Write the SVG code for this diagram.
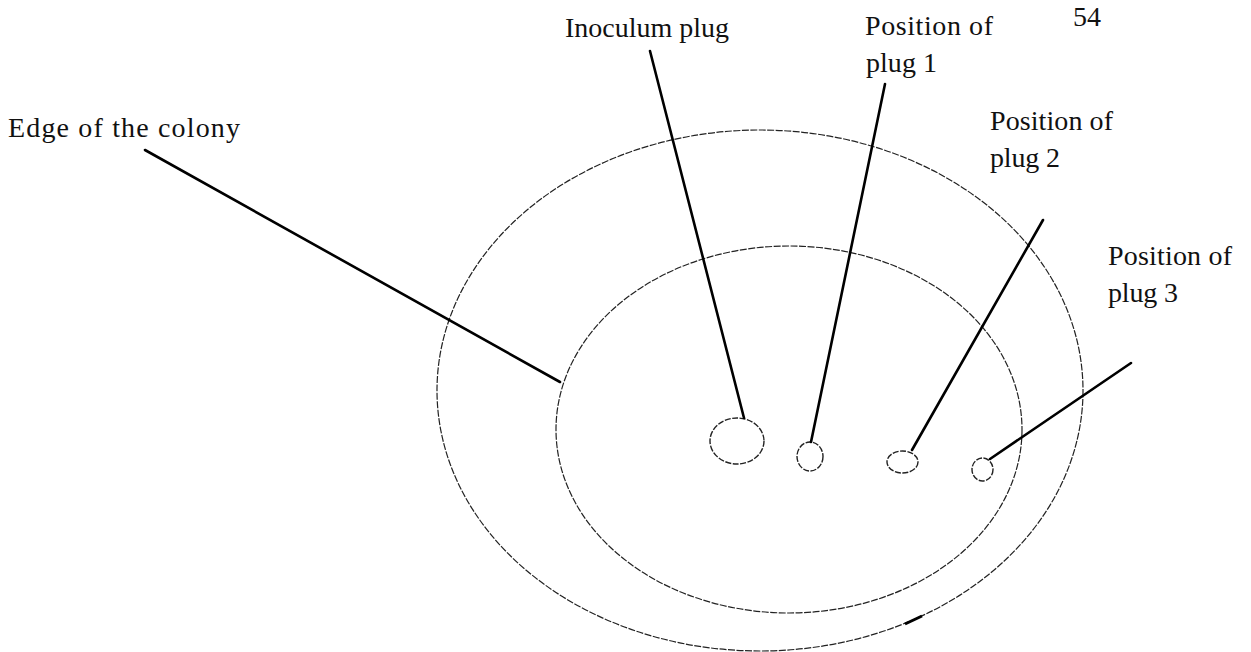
<svg xmlns="http://www.w3.org/2000/svg" width="1251" height="652" viewBox="0 0 1251 652">
<style>
  .lbl { font-family: "Liberation Serif", "Times New Roman", serif; font-size: 28px; fill: #111; }
  .ring { fill: none; stroke: #222; stroke-width: 1.2; stroke-dasharray: 7 1.5; }
  .plug { fill: none; stroke: #222; stroke-width: 1.4; stroke-dasharray: 6 1.5; }
  .lead { stroke: #000; stroke-width: 2.6; fill: none; stroke-linecap: round; }
</style>
<rect width="1251" height="652" fill="#fff"/>
<text class="lbl" x="1073" y="26">54</text>
<g id="outer-ring">
  <ellipse class="ring" cx="760" cy="390.5" rx="323" ry="260.5"/>
  <path d="M905,624 L922,616" stroke="#000" stroke-width="3" fill="none"/>
</g>
<g id="colony-edge">
  <ellipse class="ring" cx="789" cy="429.5" rx="233" ry="183.5"/>
</g>
<g id="inoculum-plug">
  <ellipse class="plug" cx="737" cy="441" rx="27" ry="23"/>
</g>
<g id="plug-1">
  <ellipse class="plug" cx="810" cy="456.5" rx="13" ry="14.5"/>
</g>
<g id="plug-2">
  <ellipse class="plug" cx="902.5" cy="462" rx="15.5" ry="11"/>
</g>
<g id="plug-3">
  <ellipse class="plug" cx="982.5" cy="469.5" rx="10.5" ry="11.5"/>
</g>
<g id="label-edge">
  <text class="lbl" x="8" y="137" textLength="232" lengthAdjust="spacing">Edge of the colony</text>
</g>
<g id="label-inoculum">
  <text class="lbl" x="565" y="37" textLength="164" lengthAdjust="spacing">Inoculum plug</text>
</g>
<g id="label-plug1">
  <text class="lbl" x="865" y="35" textLength="128" lengthAdjust="spacing">Position of</text>
  <text class="lbl" x="866" y="72" textLength="71" lengthAdjust="spacing">plug 1</text>
</g>
<g id="label-plug2">
  <text class="lbl" x="990" y="130" textLength="123" lengthAdjust="spacing">Position of</text>
  <text class="lbl" x="990" y="167" textLength="70" lengthAdjust="spacing">plug 2</text>
</g>
<g id="label-plug3">
  <text class="lbl" x="1108" y="265" textLength="124" lengthAdjust="spacing">Position of</text>
  <text class="lbl" x="1108" y="302" textLength="70" lengthAdjust="spacing">plug 3</text>
</g>
<g id="connectors">
  <line class="lead" x1="145" y1="150" x2="560" y2="382"/>
  <line class="lead" x1="650" y1="51" x2="744" y2="418"/>
  <line class="lead" x1="885" y1="84" x2="811" y2="442"/>
  <line class="lead" x1="1043" y1="220" x2="912" y2="450"/>
  <line class="lead" x1="1131" y1="363" x2="990" y2="459"/>
</g>
</svg>
